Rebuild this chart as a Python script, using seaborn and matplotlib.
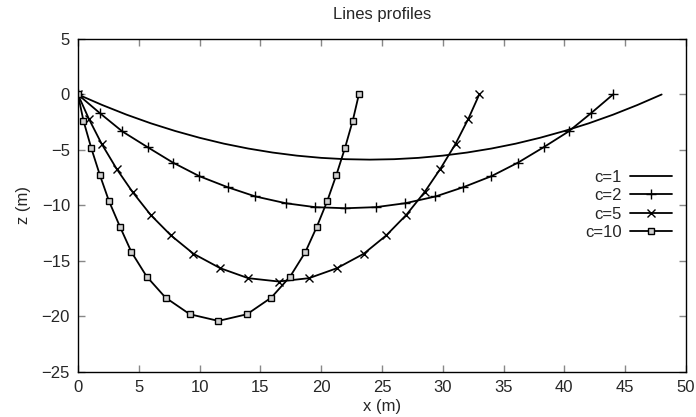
import numpy as np
import pandas as pd
import matplotlib
matplotlib.use("Agg")
import matplotlib.pyplot as plt
import seaborn as sns

# ----------------------------------------------------------
# DATA
# ----------------------------------------------------------

x_c1 = [0, 2, 4, 6, 8, 10, 12, 14, 16, 18, 20, 22, 24,
        26, 28, 30, 32, 34, 36, 38, 40, 42, 44, 46, 48]
z_c1 = [0, -0.95, -1.82, -2.6, -3.29, -3.9, -4.43, -4.87, -5.23, -5.51, -5.71, -5.83, -5.87,
        -5.83, -5.71, -5.51, -5.23, -4.87, -4.43, -3.9, -3.29, -2.6, -1.82, -0.95, 0]

x_c2 = [0, 1.8, 3.65, 5.73, 7.8, 9.98, 12.3, 14.6, 17.1, 19.5, 22.0,
        24.5, 26.9, 29.4, 31.7, 34.0, 36.2, 38.3, 40.35, 42.2, 44.0]
z_c2 = [0, -1.68, -3.33, -4.75, -6.13, -7.36, -8.35, -9.19, -9.8, -10.15, -10.25,
        -10.15, -9.8, -9.19, -8.35, -7.36, -6.13, -4.75, -3.33, -1.68, 0]

x_c5 = [0, 0.9, 1.95, 3.18, 4.5, 5.98, 7.65, 9.5, 11.7, 14.0, 16.5,
        19.0, 21.3, 23.5, 25.35, 27.0, 28.5, 29.8, 31.05, 32.1, 33.0]
z_c5 = [0, -2.2, -4.45, -6.7, -8.8, -10.85, -12.7, -14.35, -15.65, -16.55, -16.85,
        -16.55, -15.65, -14.35, -12.7, -10.85, -8.8, -6.7, -4.45, -2.2, 0]

x_c10 = [0, 0.45, 1.1, 1.8, 2.55, 3.45, 4.4, 5.65, 7.2, 9.2, 11.55,
         13.9, 15.9, 17.45, 18.7, 19.65, 20.5, 21.25, 21.95, 22.6, 23.1]
z_c10 = [0, -2.35, -4.85, -7.25, -9.6, -11.9, -14.2, -16.4, -18.3, -19.8, -20.4,
         -19.8, -18.3, -16.4, -14.2, -11.9, -9.6, -7.25, -4.85, -2.35, 0]

labels = ["c=1", "c=2", "c=5", "c=10"]
xs = [x_c1, x_c2, x_c5, x_c10]
zs = [z_c1, z_c2, z_c5, z_c10]

x_ticks = [0, 5, 10, 15, 20, 25, 30, 35, 40, 45, 50]
z_ticks = [-25, -20, -15, -10, -5, 0, 5]

# ----------------------------------------------------------
# STYLE
# ----------------------------------------------------------

sns.set_style("ticks")
plt.rcParams["font.family"] = ["Liberation Sans", "DejaVu Sans"]
plt.rcParams["font.size"] = 12

markers = [None, "+", "x", "s"]
msizes = [0, 7, 6, 5]

fig = plt.figure(figsize=(6.96, 4.17), dpi=100)
ax = fig.add_axes([0.112, 0.108, 0.8736, 0.7985])

for lab, xv, zv, mk, ms in zip(labels, xs, zs, markers, msizes):
    df = pd.DataFrame({"x": xv, "z": zv})
    kw = {}
    if mk is not None:
        kw = dict(marker=mk, markersize=ms, markeredgewidth=1.0,
                  markeredgecolor="black")
        if mk == "s":
            kw["markerfacecolor"] = "#d0d0d0"
    sns.lineplot(data=df, x="x", y="z", sort=False, color="black",
                 linewidth=1.3, label=lab, ax=ax, **kw)

ax.set_xlim(0, 50)
ax.set_ylim(-25, 5)
ax.set_xticks(x_ticks)
ax.set_yticks(z_ticks)
ax.tick_params(direction="in", length=5, color="#888888", width=1,
               top=True, right=True, labelsize=12, pad=5.7)
for s in ax.spines.values():
    s.set_linewidth(1)
    s.set_color("black")

ax.set_title("Lines profiles", fontsize=12, pad=14.5)
ax.set_xlabel("x (m)", fontsize=12, labelpad=3)
ax.set_ylabel("z (m)", fontsize=12, labelpad=8)

ax.legend(loc="upper right", bbox_to_anchor=(0.977, 0.607),
          frameon=False, markerfirst=False, handlelength=2.52,
          handletextpad=0.48, labelspacing=0.2, fontsize=12,
          borderaxespad=0, borderpad=0)

fig.savefig("out.png", dpi=100)
